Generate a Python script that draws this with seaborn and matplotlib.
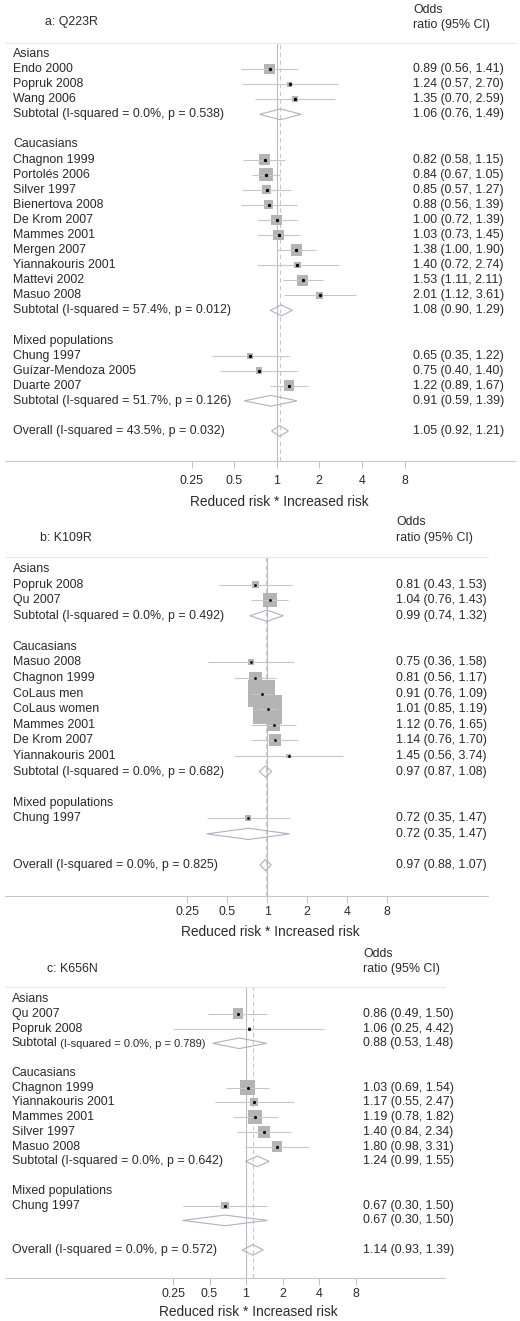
import numpy as np
import pandas as pd
import matplotlib
matplotlib.use("Agg")
import matplotlib.pyplot as plt
import seaborn as sns

# ---------------- data ----------------
groups = ["Asians", "Caucasians", "Mixed populations"]

# panel a: Q223R
a_study = ["Endo 2000", "Popruk 2008", "Wang 2006",
           "Chagnon 1999", "Portolés 2006", "Silver 1997", "Bienertova 2008", "De Krom 2007",
           "Mammes 2001", "Mergen 2007", "Yiannakouris 2001", "Mattevi 2002", "Masuo 2008",
           "Chung 1997", "Guízar-Mendoza 2005", "Duarte 2007"]
a_group = [0, 0, 0, 1, 1, 1, 1, 1, 1, 1, 1, 1, 1, 2, 2, 2]
a_or = [0.89, 1.24, 1.35, 0.82, 0.84, 0.85, 0.88, 1.00, 1.03, 1.38, 1.40, 1.53, 2.01, 0.65, 0.75, 1.22]
a_lo = [0.56, 0.57, 0.70, 0.58, 0.67, 0.57, 0.56, 0.72, 0.73, 1.00, 0.72, 1.11, 1.12, 0.35, 0.40, 0.89]
a_hi = [1.41, 2.70, 2.59, 1.15, 1.05, 1.27, 1.39, 1.39, 1.45, 1.90, 2.74, 2.11, 3.61, 1.22, 1.40, 1.67]
a_weight = [7.6, 1.7, 2.4, 7.6, 11.7, 5.7, 5.4, 7.6, 7.6, 8.5, 3.0, 8.0, 3.0, 2.4, 3.0, 7.6]
a_sub_or = [1.06, 1.08, 0.91]
a_sub_lo = [0.76, 0.90, 0.59]
a_sub_hi = [1.49, 1.29, 1.39]
a_sub_i2 = [0.0, 57.4, 51.7]
a_sub_p = [0.538, 0.012, 0.126]
a_overall = [1.05, 0.92, 1.21]
a_overall_het = [43.5, 0.032]

# panel b: K109R
b_study = ["Popruk 2008", "Qu 2007",
           "Masuo 2008", "Chagnon 1999", "CoLaus men", "CoLaus women", "Mammes 2001",
           "De Krom 2007", "Yiannakouris 2001",
           "Chung 1997"]
b_group = [0, 0, 1, 1, 1, 1, 1, 1, 1, 2]
b_or = [0.81, 1.04, 0.75, 0.81, 0.91, 1.01, 1.12, 1.14, 1.45, 0.72]
b_lo = [0.43, 0.76, 0.36, 0.56, 0.76, 0.85, 0.76, 0.76, 0.56, 0.35]
b_hi = [1.53, 1.43, 1.58, 1.17, 1.09, 1.19, 1.65, 1.70, 3.74, 1.47]
b_weight = [2.0, 8.2, 1.5, 7.1, 30.5, 35.1, 7.1, 6.0, 1.0, 1.5]
b_sub_or = [0.99, 0.97, 0.72]
b_sub_lo = [0.74, 0.87, 0.35]
b_sub_hi = [1.32, 1.08, 1.47]
b_sub_i2 = [0.0, 0.0, None]
b_sub_p = [0.492, 0.682, None]
b_overall = [0.97, 0.88, 1.07]
b_overall_het = [0.0, 0.825]

# panel c: K656N
c_study = ["Qu 2007", "Popruk 2008",
           "Chagnon 1999", "Yiannakouris 2001", "Mammes 2001", "Silver 1997", "Masuo 2008",
           "Chung 1997"]
c_group = [0, 0, 1, 1, 1, 1, 1, 2]
c_or = [0.86, 1.06, 1.03, 1.17, 1.19, 1.40, 1.80, 0.67]
c_lo = [0.49, 0.25, 0.69, 0.55, 0.78, 0.84, 0.98, 0.30]
c_hi = [1.50, 4.42, 1.54, 2.47, 1.82, 2.34, 3.31, 1.50]
c_weight = [12.4, 1.0, 23.5, 7.5, 22.2, 15.6, 11.5, 6.4]
c_sub_or = [0.88, 1.24, 0.67]
c_sub_lo = [0.53, 0.99, 0.30]
c_sub_hi = [1.48, 1.55, 1.50]
c_sub_i2 = [0.0, 0.0, None]
c_sub_p = [0.789, 0.642, None]
c_overall = [1.14, 0.93, 1.39]
c_overall_het = [0.0, 0.572]

tick_values = [0.25, 0.5, 1, 2, 4, 8]
tick_labels = ["0.25", "0.5", "1", "2", "4", "8"]
x_label = "Reduced risk * Increased risk"

# ---------------- style ----------------
sns.set_theme(style="white")
plt.rcParams["font.family"] = ["Liberation Sans", "DejaVu Sans"]

W, H = 520, 1321
TXT = "#2a2a2a"
BOX = "#b4b4b4"
CI = "#c6c6d0"
DIA = "#b0b0c4"
FS = 8.9

fig = plt.figure(figsize=(W / 100, H / 100), dpi=100)


def fmt(o, l, h):
    return f"{o:.2f} ({l:.2f}, {h:.2f})"


def draw_panel(title, study, group, orr, lo, hi, w, sub_or, sub_lo, sub_hi,
               sub_i2, sub_p, overall, overall_het, L):
    row = lambda px: (px - L["row0"]) / L["sp"]
    ax = fig.add_axes([0, 1 - L["base"] / H, 1, (L["base"] - L["sep"]) / H])
    ax.set_xscale("log", base=2)
    ax.set_xlim(2 ** (-L["cx"] / L["dpx"]), 2 ** ((W - L["cx"]) / L["dpx"]))
    ybot, ytop = row(L["base"]), row(L["sep"])
    ax.set_ylim(ybot, ytop)
    yx = ax.get_yaxis_transform()

    # row layout
    rows_study = [None] * len(study)
    rows_sub = []
    r = 0
    for g in range(len(groups)):
        ax.text(L["name_x"] / W, r, groups[g], transform=yx, va="center", ha="left",
                fontsize=FS, color=TXT)
        r += 1
        for i, gi in enumerate(group):
            if gi == g:
                rows_study[i] = r
                r += 1
        rows_sub.append(r)
        r += 2
    r_over = r

    df = pd.DataFrame({"or": orr, "lo": lo, "hi": hi, "w": w, "row": rows_study})
    wmax = max(w)
    smax = (0.72 * L["boxc"]) ** 2 * wmax
    sns.scatterplot(data=df, x="or", y="row", size="w", sizes=(0, smax),
                    size_norm=(0, wmax), marker="s", color=BOX, linewidth=0,
                    legend=False, ax=ax, zorder=2)
    ax.hlines(df["row"], df["lo"], df["hi"], color=CI, lw=0.8, zorder=3)
    sns.scatterplot(data=df, x="or", y="row", color="black", s=L["dot"], linewidth=0,
                    legend=False, ax=ax, zorder=4)

    for i in range(len(study)):
        ax.text(L["name_x"] / W, rows_study[i], study[i], transform=yx, va="center",
                ha="left", fontsize=FS, color=TXT)
        ax.text(L["text_x"] / W, rows_study[i], fmt(orr[i], lo[i], hi[i]), transform=yx,
                va="center", ha="left", fontsize=FS, color=TXT)

    hh = 0.36

    def diamond(o, l, h, rr):
        ax.fill([l, o, h, o, l], [rr, rr - hh, rr, rr + hh, rr], fill=False,
                edgecolor=DIA, lw=0.8, zorder=3)

    for g in range(len(groups)):
        rr = rows_sub[g]
        diamond(sub_or[g], sub_lo[g], sub_hi[g], rr)
        ax.text(L["text_x"] / W, rr, fmt(sub_or[g], sub_lo[g], sub_hi[g]), transform=yx,
                va="center", ha="left", fontsize=FS, color=TXT)
        if sub_i2[g] is not None:
            het = f"(I-squared = {sub_i2[g]:.1f}%, p = {sub_p[g]:.3f})"
            if g in L["small_sub"]:
                t1 = ax.text(L["name_x"] / W, rr, "Subtotal", transform=yx, va="center",
                             ha="left", fontsize=FS, color=TXT)
                ax.annotate(" " + het, xy=(1, 0), xycoords=t1, va="bottom", ha="left",
                            fontsize=FS * 0.9, color=TXT)
            else:
                ax.text(L["name_x"] / W, rr, "Subtotal " + het, transform=yx,
                        va="center", ha="left", fontsize=FS, color=TXT)

    diamond(overall[0], overall[1], overall[2], r_over)
    ax.text(L["name_x"] / W, r_over,
            f"Overall (I-squared = {overall_het[0]:.1f}%, p = {overall_het[1]:.3f})",
            transform=yx, va="center", ha="left", fontsize=FS, color=TXT)
    ax.text(L["text_x"] / W, r_over, fmt(*overall), transform=yx, va="center", ha="left",
            fontsize=FS, color=TXT)

    # reference lines
    ax.axvline(1, color="#bcbcbc", lw=0.8, zorder=1)
    ax.axvline(overall[0], color="#c8c8c8", lw=0.8, ls=(0, (4, 3)), zorder=1)
    ax.axhline(ytop, xmin=5 / W, xmax=L["end"] / W, color="#e8e8e8", lw=0.8, clip_on=False)
    ax.axhline(ybot, xmin=5 / W, xmax=L["end"] / W, color="#c8c8c8", lw=0.8, clip_on=False)

    # header
    ax.text(L["title_x"] / W, row(L["title_y"]), title, transform=yx, va="center",
            ha="left", fontsize=FS, color=TXT)
    ax.text(L["text_x"] / W, row(L["odds_y"]), "Odds", transform=yx, va="center",
            ha="left", fontsize=FS, color=TXT)
    ax.text(L["text_x"] / W, row(L["ratio_y"]), "ratio (95% CI)", transform=yx,
            va="center", ha="left", fontsize=FS, color=TXT)

    # axis
    for s in ax.spines.values():
        s.set_visible(False)
    ax.set_xticks(tick_values)
    ax.set_xticklabels(tick_labels)
    ax.xaxis.set_minor_locator(matplotlib.ticker.NullLocator())
    ax.set_yticks([])
    ax.tick_params(axis="x", bottom=True, direction="out", length=5, width=0.7,
                   color="#c0c0c0", pad=L["pad"], labelsize=FS, labelcolor=TXT)
    ax.set_xlabel("")
    ax.set_ylabel("")
    ax.text(1.05, row(L["base"] + L["xlab"]), x_label, ha="center", va="center",
            fontsize=9.9, color=TXT)
    ax.patch.set_alpha(0)


LA = dict(row0=54, sp=15.08, sep=43, base=461, cx=276.7, dpx=42.6, end=515, text_x=413,
          name_x=13, title_x=45, title_y=22, odds_y=10, ratio_y=25, pad=5.2, xlab=41,
          boxc=3.88, dot=6, small_sub=set())
LB = dict(row0=569, sp=15.58, sep=557, base=896, cx=267.3, dpx=40.0, end=488, text_x=396,
          name_x=12.7, title_x=40, title_y=538, odds_y=522, ratio_y=538, pad=2.3, xlab=36,
          boxc=4.89, dot=4, small_sub=set())
LC = dict(row0=999, sp=14.76, sep=987, base=1278, cx=246, dpx=36.5, end=445, text_x=363,
          name_x=11.7, title_x=47, title_y=969, odds_y=954, ratio_y=969, pad=2.3, xlab=34,
          boxc=3.03, dot=5, small_sub={0})

draw_panel("a: Q223R", a_study, a_group, a_or, a_lo, a_hi, a_weight, a_sub_or, a_sub_lo,
           a_sub_hi, a_sub_i2, a_sub_p, a_overall, a_overall_het, LA)
draw_panel("b: K109R", b_study, b_group, b_or, b_lo, b_hi, b_weight, b_sub_or, b_sub_lo,
           b_sub_hi, b_sub_i2, b_sub_p, b_overall, b_overall_het, LB)
draw_panel("c: K656N", c_study, c_group, c_or, c_lo, c_hi, c_weight, c_sub_or, c_sub_lo,
           c_sub_hi, c_sub_i2, c_sub_p, c_overall, c_overall_het, LC)

fig.savefig("out.png", dpi=100, facecolor="white")
